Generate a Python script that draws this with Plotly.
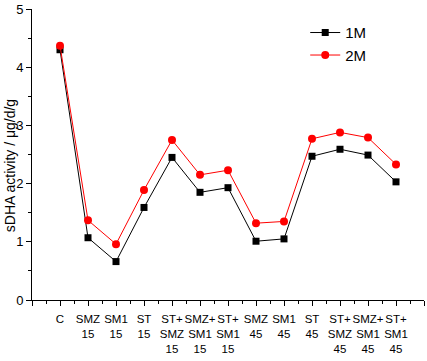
import plotly.graph_objects as go

categories = ["C", "SMZ<br>15", "SM1<br>15", "ST<br>15", "ST+<br>SMZ<br>15", "SMZ+<br>SM1<br>15",
              "ST+<br>SM1<br>15", "SMZ<br>45", "SM1<br>45", "ST<br>45", "ST+<br>SMZ<br>45",
              "SMZ+<br>SM1<br>45", "ST+<br>SM1<br>45"]
m1 = [4.30, 1.07, 0.66, 1.59, 2.45, 1.85, 1.93, 1.01, 1.05, 2.47, 2.59, 2.49, 2.03]
m2 = [4.37, 1.37, 0.96, 1.89, 2.75, 2.15, 2.23, 1.32, 1.35, 2.77, 2.88, 2.79, 2.33]
y_title = "sDHA activity / μg/d/g"

x = list(range(len(categories)))
font = "Arial, Liberation Sans, sans-serif"

fig = go.Figure()
fig.add_trace(go.Scatter(x=x, y=m1, name="1M", mode="lines+markers",
                         line=dict(color="black", width=1),
                         marker=dict(symbol="square", size=7, color="black")))
fig.add_trace(go.Scatter(x=x, y=m2, name="2M", mode="lines+markers",
                         line=dict(color="#ff0000", width=1),
                         marker=dict(symbol="circle", size=8, color="#ff0000")))

tickvals = [-1] + x + [len(x)]
ticktext = [""] + categories + [""]

fig.update_layout(
    width=427, height=361,
    margin=dict(l=32, r=3, t=9, b=61, autoexpand=False),
    paper_bgcolor="white", plot_bgcolor="white",
    font=dict(family=font, size=12, color="black"),
    showlegend=True,
    legend=dict(x=0.697, y=0.975, xanchor="left", yanchor="top",
                bgcolor="rgba(0,0,0,0)", font=dict(size=15), itemwidth=30,
                tracegroupgap=0),
    xaxis=dict(range=[-1, len(x)], tickmode="array", tickvals=tickvals, ticktext=ticktext,
               tickangle=0, automargin=False,
               showline=True, linecolor="black", linewidth=1, ticks="outside",
               ticklen=5, tickcolor="black", showgrid=False, zeroline=False,
               ticklabelstandoff=3, tickfont=dict(size=11.5),
               minor=dict(tickmode="linear", tick0=-0.5, dtick=1, ticks="outside",
                          ticklen=3, tickcolor="black", showgrid=False)),
    yaxis=dict(range=[0, 5], dtick=1, showline=True, linecolor="black", linewidth=1,
               automargin=False,
               ticks="outside", ticklen=5, tickcolor="black", showgrid=False,
               zeroline=False, tickfont=dict(size=13),
               minor=dict(dtick=0.5, ticks="outside", ticklen=3, tickcolor="black",
                          showgrid=False)),
)
fig.add_annotation(text=y_title, textangle=-90, xref="paper", yref="paper",
                   x=-0.056, y=0.46, xanchor="center", yanchor="middle",
                   showarrow=False, font=dict(size=14))

fig.write_html("out.html", config={"displayModeBar": False},
               post_script="document.body.style.margin='0';document.body.style.overflow='hidden';")
